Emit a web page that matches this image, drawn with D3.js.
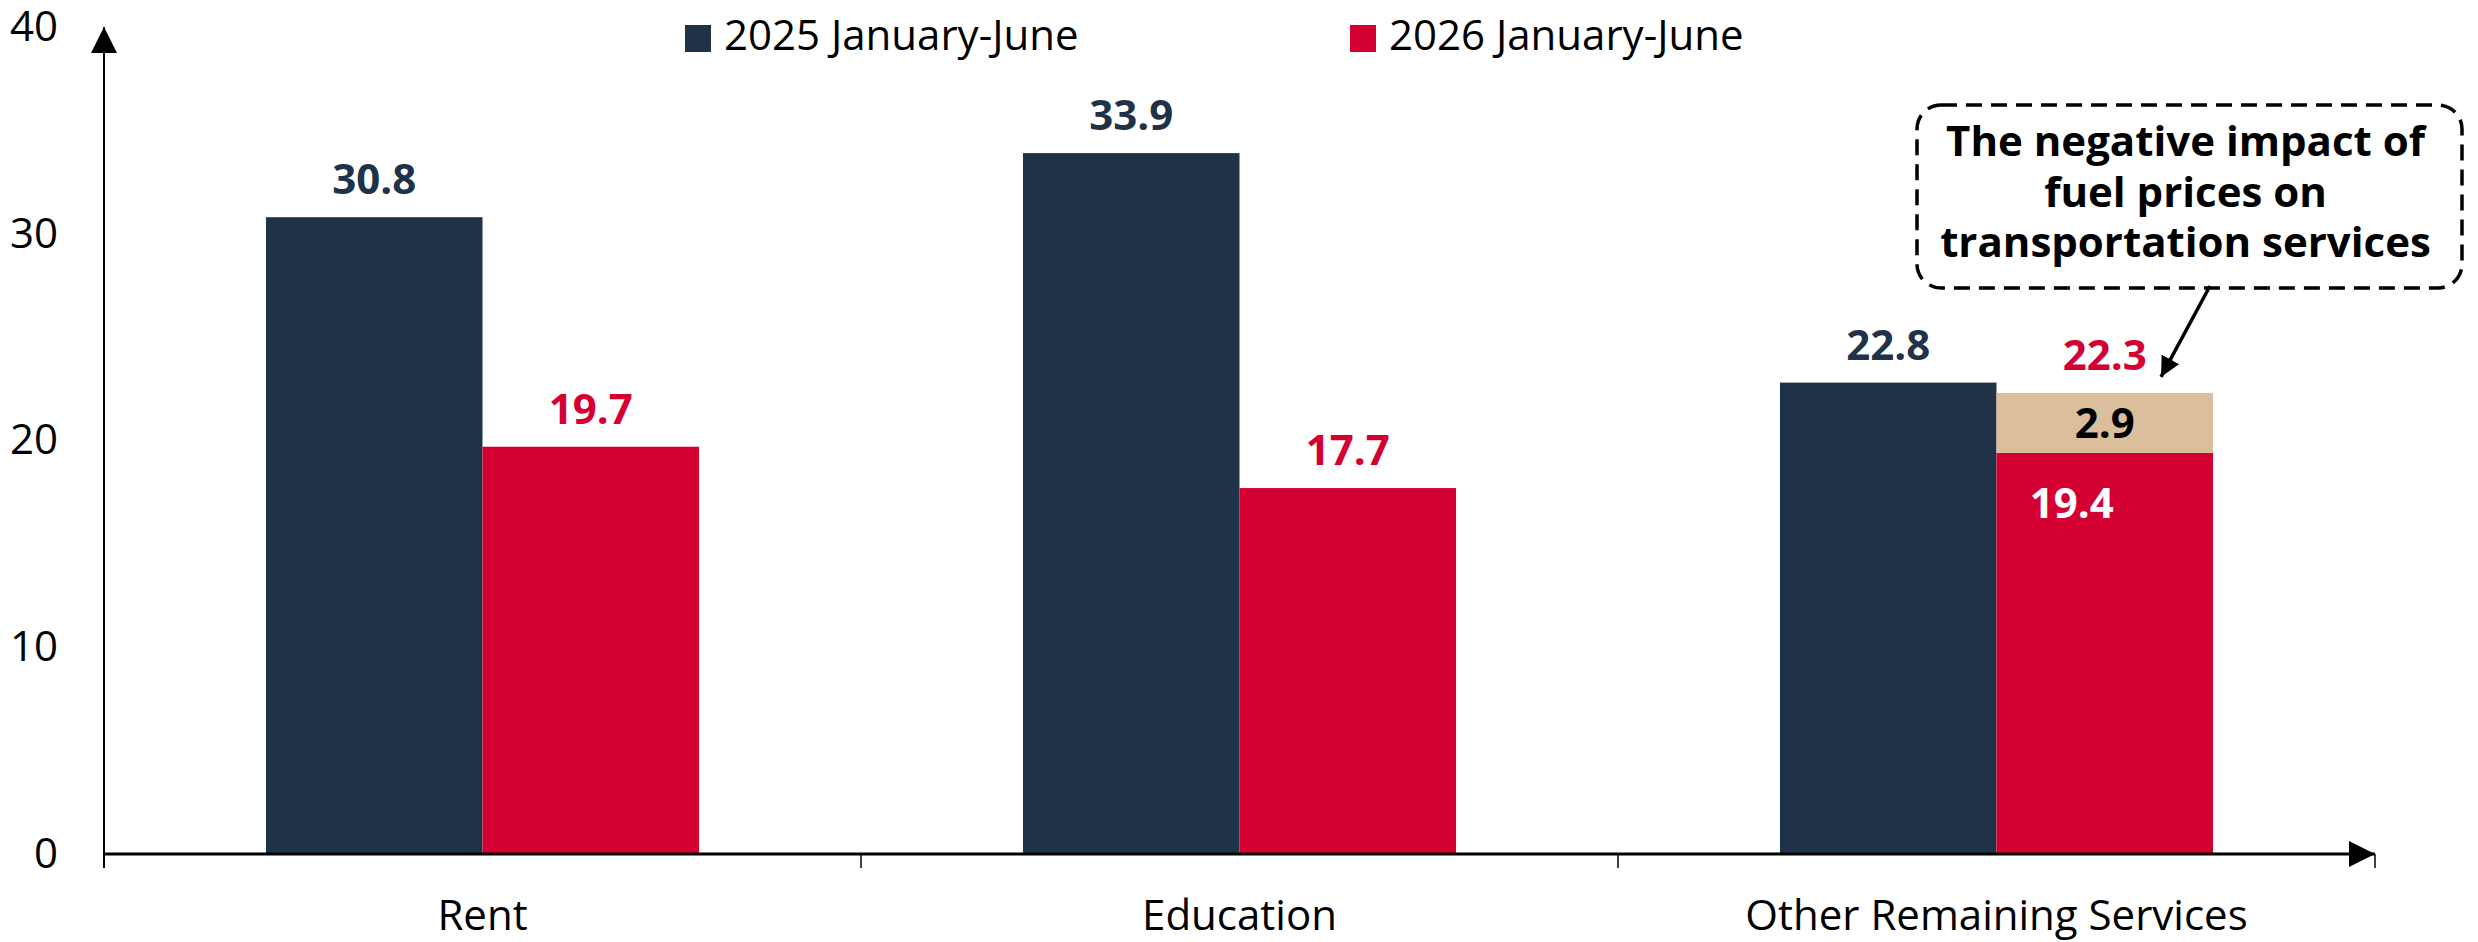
<!DOCTYPE html>
<html>
<head>
<meta charset="utf-8">
<script src="https://cdn.jsdelivr.net/npm/d3@7"></script>
<style>
  html, body { margin: 0; padding: 0; background: #ffffff; }
  svg { display: block; font-family: "Open Sans", "Noto Sans", sans-serif; }
</style>
</head>
<body>
<svg id="chart" width="2478" height="942"></svg>
<script>
// Categories and series
const categories = ["Rent", "Education", "Other Remaining Services"];
const seriesNames = ["2025 January-June", "2026 January-June"];
const values2025 = [30.8, 33.9, 22.8];
const values2026 = [19.7, 17.7, 22.3];
// Breakdown of the 2026 bar for the last category: base + fuel-related part
const otherBase2026 = 19.4;
const otherFuel2026 = 2.9;
const yTicks = [0, 10, 20, 30, 40];
const noteLines = ["The negative impact of", "fuel prices on", "transportation services"];

const colors = { s2025: "#1f3247", s2026: "#d50032", fuel: "#dbbe9c" };

const svg = d3.select("#chart");

const x = d3.scaleBand().domain(categories).range([104, 2375]).paddingInner(0).paddingOuter(0);
const xInner = d3.scaleBand().domain(seriesNames).range([0, x.bandwidth()]).paddingInner(0).paddingOuter(0.748);
const y = d3.scaleLinear().domain([0, 40]).range([854, 27]);

// Arrowhead markers
const defs = svg.append("defs");
defs.append("marker")
  .attr("id", "axisArrow")
  .attr("viewBox", "0 0 10 10")
  .attr("refX", 10).attr("refY", 5)
  .attr("markerUnits", "userSpaceOnUse")
  .attr("markerWidth", 26).attr("markerHeight", 26)
  .attr("orient", "auto")
  .append("path").attr("d", "M0,0 L10,5 L0,10 Z").attr("fill", "#000");
defs.append("marker")
  .attr("id", "noteArrow")
  .attr("viewBox", "0 0 10 10")
  .attr("refX", 10).attr("refY", 5)
  .attr("markerUnits", "userSpaceOnUse")
  .attr("markerWidth", 20).attr("markerHeight", 20)
  .attr("orient", "auto")
  .append("path").attr("d", "M0,0 L10,5 L0,10 Z").attr("fill", "#000");

// Bars
const rows = categories.map((c, i) => ({ cat: c, v25: values2025[i], v26: values2026[i] }));

const g = svg.append("g");
g.selectAll("rect.b25").data(rows).join("rect")
  .attr("class", "b25")
  .attr("x", d => x(d.cat) + xInner(seriesNames[0]))
  .attr("width", xInner.bandwidth())
  .attr("y", d => y(d.v25))
  .attr("height", d => y(0) - y(d.v25))
  .attr("fill", colors.s2025);

const lastCat = categories[categories.length - 1];
const plain26 = rows.filter(d => d.cat !== lastCat);
g.selectAll("rect.b26").data(plain26).join("rect")
  .attr("class", "b26")
  .attr("x", d => x(d.cat) + xInner(seriesNames[1]))
  .attr("width", xInner.bandwidth())
  .attr("y", d => y(d.v26))
  .attr("height", d => y(0) - y(d.v26))
  .attr("fill", colors.s2026);

// Stacked 2026 bar for the last category
const stackX = x(lastCat) + xInner(seriesNames[1]);
const segs = [
  { y0: 0, y1: otherBase2026, fill: colors.s2026 },
  { y0: otherBase2026, y1: otherBase2026 + otherFuel2026, fill: colors.fuel }
];
g.selectAll("rect.seg").data(segs).join("rect")
  .attr("class", "seg")
  .attr("x", stackX)
  .attr("width", xInner.bandwidth())
  .attr("y", d => y(d.y1))
  .attr("height", d => y(d.y0) - y(d.y1))
  .attr("fill", d => d.fill);

// Value labels above bars
const labelFont = 42;
const fmt = d3.format(".1f");
g.selectAll("text.l25").data(rows).join("text")
  .attr("x", d => x(d.cat) + xInner(seriesNames[0]) + xInner.bandwidth() / 2)
  .attr("y", d => y(d.v25) - 23)
  .attr("text-anchor", "middle")
  .attr("font-size", labelFont).attr("font-weight", 700)
  .attr("fill", colors.s2025)
  .text(d => fmt(d.v25));
g.selectAll("text.l26").data(rows).join("text")
  .attr("x", d => x(d.cat) + xInner(seriesNames[1]) + xInner.bandwidth() / 2)
  .attr("y", d => y(d.v26) - 23)
  .attr("text-anchor", "middle")
  .attr("font-size", labelFont).attr("font-weight", 700)
  .attr("fill", colors.s2026)
  .text(d => fmt(d.v26));

// Labels inside the stacked segments
g.append("text")
  .attr("x", stackX + xInner.bandwidth() / 2)
  .attr("y", (y(otherBase2026) + y(otherBase2026 + otherFuel2026)) / 2 + 15)
  .attr("text-anchor", "middle")
  .attr("font-size", labelFont).attr("font-weight", 700)
  .attr("fill", "#000")
  .text(fmt(otherFuel2026));
g.append("text")
  .attr("x", stackX + xInner.bandwidth() / 2 - 33)
  .attr("y", y(otherBase2026) + 65)
  .attr("text-anchor", "middle")
  .attr("font-size", labelFont).attr("font-weight", 700)
  .attr("fill", "#fff")
  .text(fmt(otherBase2026));

// Y axis: labels only, plus arrowed line
const yAxis = svg.append("g")
  .attr("transform", `translate(${x.range()[0]},0)`)
  .call(d3.axisLeft(y).tickValues(yTicks).tickSize(0).tickPadding(46));
yAxis.select(".domain").remove();
yAxis.selectAll("text").attr("font-size", 42).attr("fill", "#000").attr("font-family", "Open Sans");

svg.append("line")
  .attr("x1", x.range()[0]).attr("x2", x.range()[0])
  .attr("y1", y(0) + 14).attr("y2", y(40))
  .attr("stroke", "#000").attr("stroke-width", 2)
  .attr("marker-end", "url(#axisArrow)");

// X axis: category labels, boundary ticks, arrowed line
const xAxis = svg.append("g")
  .attr("transform", `translate(0,${y(0)})`)
  .call(d3.axisBottom(x).tickSize(0).tickPadding(46));
xAxis.select(".domain").remove();
xAxis.selectAll("text").attr("font-size", 42).attr("fill", "#000").attr("font-family", "Open Sans");

const boundaries = categories.map(c => x(c)).concat([x.range()[1]]);
svg.selectAll("line.btick").data(boundaries).join("line")
  .attr("class", "btick")
  .attr("x1", d => d).attr("x2", d => d)
  .attr("y1", y(0)).attr("y2", y(0) + 14)
  .attr("stroke", "#000").attr("stroke-width", 1.5);

svg.append("line")
  .attr("x1", x.range()[0]).attr("x2", x.range()[1])
  .attr("y1", y(0)).attr("y2", y(0))
  .attr("stroke", "#000").attr("stroke-width", 3)
  .attr("marker-end", "url(#axisArrow)");

// Legend
const legendX = [685, 1350];
const legend = svg.selectAll("g.leg").data(seriesNames).join("g")
  .attr("class", "leg")
  .attr("transform", (d, i) => `translate(${legendX[i]},0)`);
legend.append("rect")
  .attr("x", 0).attr("y", 25).attr("width", 26).attr("height", 27)
  .attr("fill", (d, i) => i === 0 ? colors.s2025 : colors.s2026);
legend.append("text")
  .attr("x", 39).attr("y", 50)
  .attr("font-size", 42).attr("fill", "#000")
  .text(d => d);

// Annotation box
const box = { x: 1917, y: 105, w: 545, h: 183 };
svg.append("rect")
  .attr("x", box.x).attr("y", box.y).attr("width", box.w).attr("height", box.h)
  .attr("rx", 24).attr("ry", 24)
  .attr("fill", "#fff").attr("stroke", "#000")
  .attr("stroke-width", 3.5).attr("stroke-dasharray", "16 9");
svg.append("g").selectAll("text").data(noteLines).join("text")
  .attr("x", box.x + box.w / 2 - 4)
  .attr("y", (d, i) => 156 + i * 50.5)
  .attr("text-anchor", "middle")
  .attr("font-size", 42).attr("font-weight", 700).attr("fill", "#000")
  .text(d => d);

// Pointer from note to the fuel segment
svg.append("line")
  .attr("x1", 2210).attr("y1", box.y + box.h - 2)
  .attr("x2", 2161).attr("y2", y(otherBase2026 + otherFuel2026) - 16)
  .attr("stroke", "#000").attr("stroke-width", 3.5)
  .attr("marker-end", "url(#noteArrow)");
</script>
</body>
</html>
